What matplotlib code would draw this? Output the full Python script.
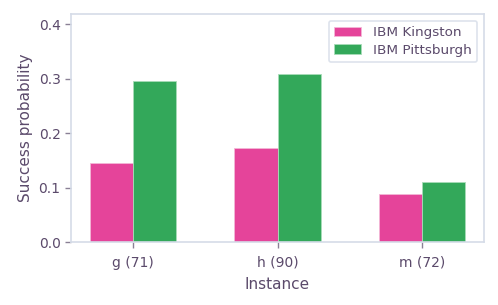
import matplotlib
matplotlib.use("Agg")
import matplotlib.pyplot as plt
import numpy as np

instances = ["g (71)", "h (90)", "m (72)"]
kingston = [0.146, 0.172, 0.088]
pittsburgh = [0.296, 0.309, 0.111]

text_c = "#5b4a6b"
spine_c = "#d5dce8"
pink = "#e5449a"
green = "#33a85a"

plt.rcParams['font.family'] = ['DejaVu Sans']
fig = plt.figure(figsize=(4.98, 3.05), dpi=100)
ax = fig.add_axes([71/498, 1-242/305, (484-71)/498, (242-14)/305])

x = np.arange(len(instances))
w = 0.3
ax.bar(x - w/2, kingston, w, color=pink, edgecolor="#f3b7d6", linewidth=0.6, label="IBM Kingston")
ax.bar(x + w/2, pittsburgh, w, color=green, edgecolor="#a8dcb8", linewidth=0.6, label="IBM Pittsburgh")

ax.set_ylim(0, 0.419)
ax.set_yticks([0.0, 0.1, 0.2, 0.3, 0.4])
ax.set_xticks(x)
ax.set_xticklabels(instances)
ax.set_xlabel("Instance", color=text_c, fontsize=11, labelpad=5)
ax.set_ylabel("Success probability", color=text_c, fontsize=11)
for s in ax.spines.values():
    s.set_color(spine_c)
    s.set_linewidth(1.2)
ax.tick_params(colors=text_c, labelsize=10, length=4, width=1)
ax.tick_params(axis='x', color="#8a8095", pad=6)
ax.tick_params(axis='y', color="#8a8095")
leg = ax.legend(loc="upper right", fontsize=9.7, frameon=True, fancybox=True,
                labelcolor=text_c, labelspacing=0.35, borderaxespad=0.5,
                handletextpad=0.9)
leg.get_frame().set_edgecolor(spine_c)
leg.get_frame().set_linewidth(1.2)
fig.savefig("out.png", dpi=100)
